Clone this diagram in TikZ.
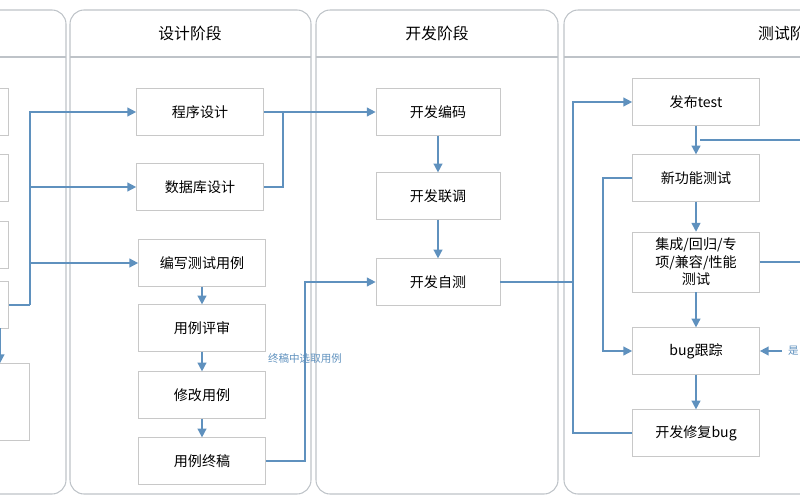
\documentclass[tikz,border=0pt]{standalone}
\usepackage{fontspec}
\setmainfont{Noto Sans CJK SC}
\usetikzlibrary{arrows.meta,positioning}
\definecolor{flowblue}{RGB}{95,145,190}
\definecolor{boxgray}{RGB}{200,200,200}
\definecolor{lanegray}{RGB}{190,195,200}

\begin{document}
\begin{tikzpicture}[
    x=0.02cm, y=-0.02cm,
    >={Triangle[length=5pt,width=5pt]},
    lane/.style={draw=lanegray, rounded corners=8pt, line width=0.6pt},
    proc/.style={draw=boxgray, fill=white, minimum width=2.54cm, minimum height=0.93cm,
        align=center, font=\fontsize{8}{10}\selectfont},
    flow/.style={draw=flowblue, line width=0.9pt},
    header/.style={font=\fontsize{9}{11}\selectfont}
]
\useasboundingbox (0,0) rectangle (800,500);
\clip (0,0) rectangle (800,500);

% Lanes
\draw[lane] (-200,10) rectangle (66,494);
\draw[lane] (70,10) rectangle (311,494);
\draw[lane] (316,10) rectangle (558,494);
\draw[lane] (564,10) rectangle (900,494);
\foreach \a/\b in {-200/66, 70/311, 316/558, 564/900}
    \draw[lanegray, line width=0.6pt] (\a,57) -- (\b,57);

\node[header] (hdesign) at (190,33) {设计阶段};
\node[header] (hdev) at (437,33) {开发阶段};
\node[header, anchor=west] (htest) at (752,33) {测试阶段};

% Requirement lane (cut off)
\node[proc] (req1) at (-55,112) {};
\node[proc] (req2) at (-55,178) {};
\node[proc] (req3) at (-55,245) {};
\node[proc] (req4) at (-55,305) {};
\node[proc, minimum height=1.54cm, anchor=east] (plan) at (30,402) {\hspace{1.3em}测试\\\hspace{1.3em}计划};

% Design lane
\node[proc] (prog) at (200,112) {程序设计};
\node[proc] (db) at (200,187) {数据库设计};
\node[proc] (case) at (202,263) {编写测试用例};
\node[proc] (review) at (202,328) {用例评审};
\node[proc] (modify) at (202,395) {修改用例};
\node[proc] (final) at (202,461) {用例终稿};

% Development lane
\node[proc, minimum width=2.48cm] (code) at (438,112) {开发编码};
\node[proc, minimum width=2.48cm] (joint) at (438,196) {开发联调};
\node[proc, minimum width=2.48cm] (self) at (438,282) {开发自测};

% Test lane
\node[proc] (release) at (696,102) {发布test};
\node[proc] (newfunc) at (696,178) {新功能测试};
\node[proc, minimum height=1cm] (regress) at (696,262) {集成/回归/专\\项/兼容/性能\\测试};
\node[proc] (track) at (696,351) {bug跟踪};
\node[proc] (fix) at (696,433) {开发修复bug};

% Connectors
\coordinate (splitA) at (30,305);
\draw[flow] (req4.east) -- (splitA);
\draw[flow,->] (splitA) |- (prog.west);
\draw[flow,->] (splitA |- db.west) -- (db.west);
\draw[flow,->] (splitA |- case.west) -- (case.west);
\coordinate (planin) at (0,328);
\draw[flow,->] (planin) -- (plan.north -| planin);

\draw[flow,->] (case) -- (review);
\draw[flow,->] (review) -- (modify);
\draw[flow,->] (modify) -- (final);

\coordinate (joinA) at (283,112);
\draw[flow] (db.east) -| (joinA);
\draw[flow,->] (prog.east) -- (code.west);
\draw[flow,->] (code) -- (joint);
\draw[flow,->] (joint) -- (self);

\coordinate (joinB) at (305,282);
\draw[flow,->] (final.east) -| (joinB) -- (self.west);
\node[font=\fontsize{6}{7}\selectfont, text=flowblue] (picklabel) at (305,358) {终稿中选取用例};

\coordinate (splitB) at (573,282);
\draw[flow] (self.east) -- (splitB);
\draw[flow,->] (splitB) |- (release.west);
\draw[flow] (fix.west) -| (splitB);

\coordinate (loopIn) at (700,140);
\draw[flow] (loopIn) -- (810,140);
\draw[flow,->] (release) -- (newfunc);
\draw[flow,->] (newfunc) -- (regress);
\draw[flow,->] (regress) -- (track);
\draw[flow,->] (track) -- (fix);
\draw[flow] (regress.east) -- (810,262);
\coordinate (sideC) at (603,178);
\draw[flow,->] (newfunc.west) -- (sideC) |- (track.west);
\coordinate (yesIn) at (782,351);
\draw[flow,->] (yesIn) -- (track.east);
\node[font=\fontsize{6}{7}\selectfont, text=flowblue, anchor=west] (yes) at (yesIn) {是};
\end{tikzpicture}
\end{document}
